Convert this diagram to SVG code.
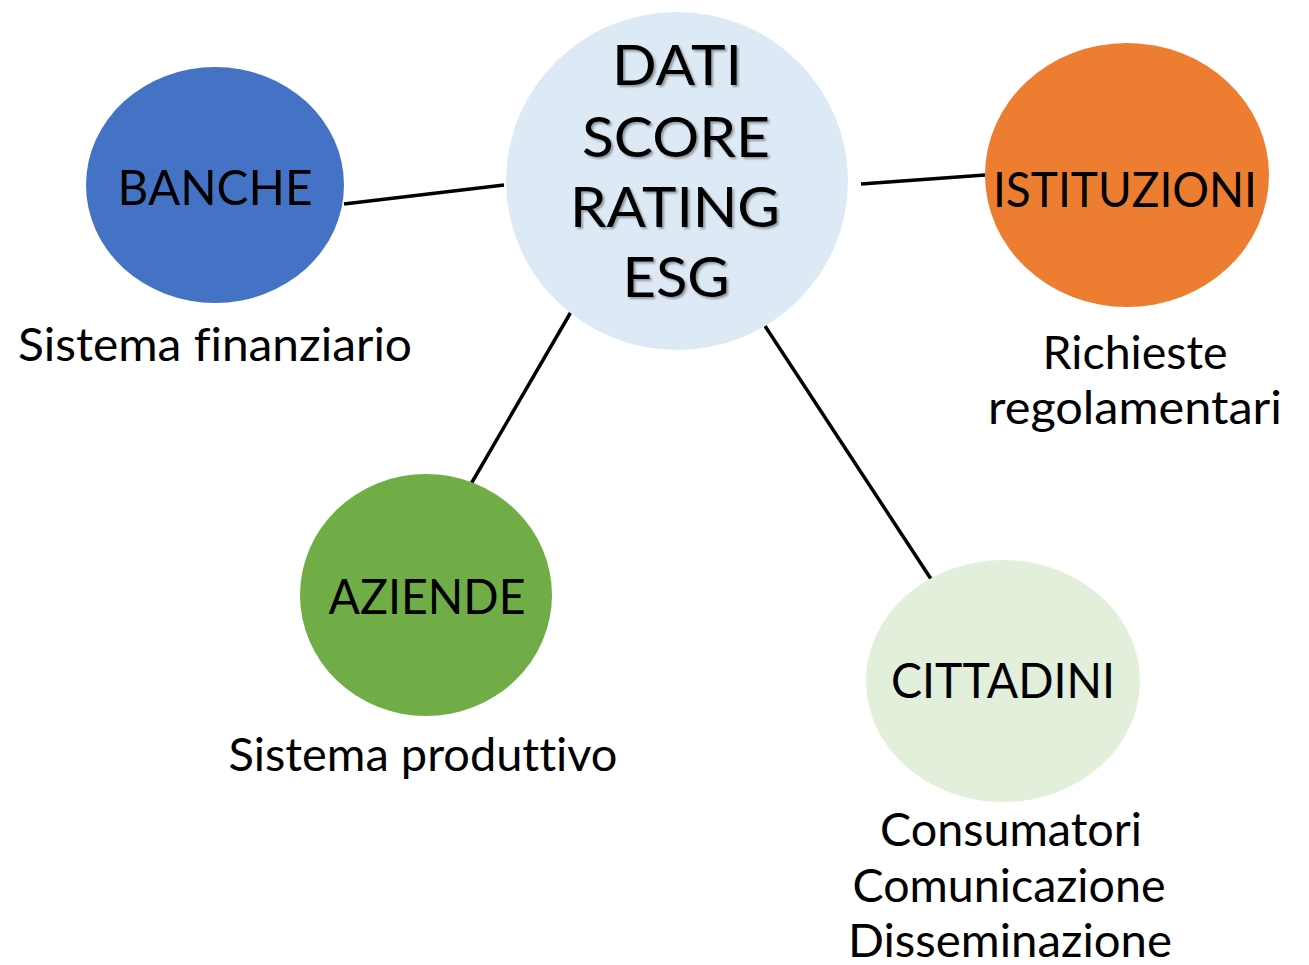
<svg xmlns="http://www.w3.org/2000/svg" width="1309" height="965" viewBox="0 0 1309 965">
<style>
.lbl{font-family:Lato,"Open Sans","Liberation Sans",sans-serif;fill:#000;text-anchor:middle;font-variant-ligatures:none;font-feature-settings:"liga" 0}
.node{font-size:49px}
.sub{font-size:46px}
.ctr{font-size:56px}
.conn{stroke:#000;stroke-width:3.5;fill:none}
</style>
<defs>
<filter id="sh" x="-10%" y="-10%" width="130%" height="130%">
<feDropShadow dx="2" dy="2" stdDeviation="1" flood-color="#000" flood-opacity="0.35"/>
</filter>
</defs>
<rect width="1309" height="965" fill="#fff"/>
<g id="connectors">
<line class="conn" x1="344" y1="204" x2="504" y2="185"/>
<line class="conn" x1="861" y1="184" x2="985" y2="175"/>
<line class="conn" x1="575" y1="305" x2="471" y2="484"/>
<line class="conn" x1="765" y1="326" x2="931" y2="579"/>
</g>
<g id="center">
<ellipse cx="677" cy="181" rx="171" ry="169" fill="#DDEAF6"/>
<g filter="url(#sh)">
<text class="lbl ctr" x="677" y="85" textLength="130" lengthAdjust="spacingAndGlyphs">DATI</text>
<text class="lbl ctr" x="676" y="157" textLength="188" lengthAdjust="spacingAndGlyphs">SCORE</text>
<text class="lbl ctr" x="675" y="227" textLength="210" lengthAdjust="spacingAndGlyphs">RATING</text>
<text class="lbl ctr" x="676" y="297" textLength="107" lengthAdjust="spacingAndGlyphs">ESG</text>
</g>
</g>
<g id="banche">
<ellipse cx="215" cy="185" rx="129" ry="118" fill="#4472C4"/>
<text class="lbl node" x="215" y="205" textLength="195" lengthAdjust="spacingAndGlyphs">BANCHE</text>
<text class="lbl sub" x="215" y="361" textLength="394" lengthAdjust="spacingAndGlyphs">Sistema finanziario</text>
</g>
<g id="istituzioni">
<ellipse cx="1127" cy="175" rx="142" ry="132" fill="#ED7D31"/>
<text class="lbl node" x="1125" y="207" textLength="264" lengthAdjust="spacingAndGlyphs">ISTITUZIONI</text>
<text class="lbl sub" x="1135" y="369" textLength="185" lengthAdjust="spacingAndGlyphs">Richieste</text>
<text class="lbl sub" x="1135" y="424" textLength="294" lengthAdjust="spacingAndGlyphs">regolamentari</text>
</g>
<g id="aziende">
<ellipse cx="426" cy="595" rx="126" ry="121" fill="#70AD47"/>
<text class="lbl node" x="427" y="614" textLength="197" lengthAdjust="spacingAndGlyphs">AZIENDE</text>
<text class="lbl sub" x="423" y="771" textLength="389" lengthAdjust="spacingAndGlyphs">Sistema produttivo</text>
</g>
<g id="cittadini">
<ellipse cx="1003" cy="681" rx="137" ry="121" fill="#E2EFDA"/>
<text class="lbl node" x="1003" y="698" textLength="224" lengthAdjust="spacingAndGlyphs">CITTADINI</text>
<text class="lbl sub" x="1011" y="846" textLength="262" lengthAdjust="spacingAndGlyphs">Consumatori</text>
<text class="lbl sub" x="1009" y="902" textLength="313" lengthAdjust="spacingAndGlyphs">Comunicazione</text>
<text class="lbl sub" x="1010" y="957" textLength="324" lengthAdjust="spacingAndGlyphs">Disseminazione</text>
</g>
</svg>
